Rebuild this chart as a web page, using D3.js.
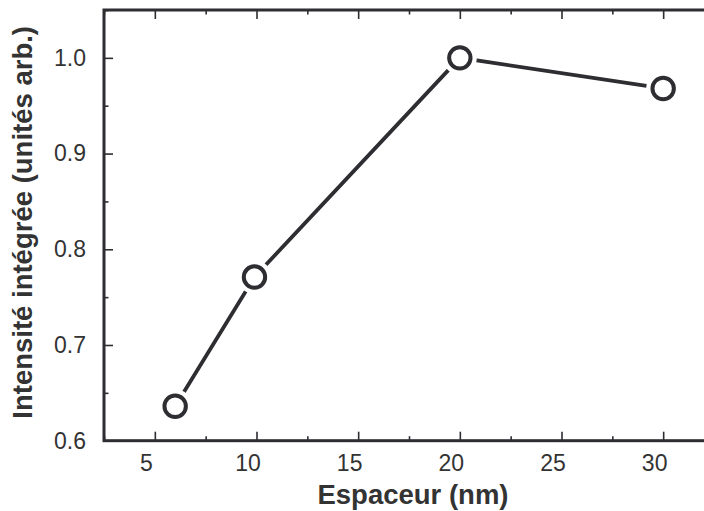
<!DOCTYPE html>
<html><head><meta charset="utf-8">
<script src="https://cdn.jsdelivr.net/npm/d3@7"></script>
<style>body{margin:0;background:#fff}svg{display:block}</style>
</head><body>
<script>
const spacer = [6.0, 9.9, 20, 30];
const intensity = [0.636, 0.771, 1.0, 0.968];
const xTicks = [5, 10, 15, 20, 25, 30];
const xMinor = [2.5, 7.5, 12.5, 17.5, 22.5, 27.5, 32.5];
const yTicks = [0.6, 0.7, 0.8, 0.9, 1.0];
const yMinor = [0.65, 0.75, 0.85, 0.95, 1.05];
const xTitle = "Espaceur (nm)";
const yTitle = "Intensité intégrée (unités arb.)";

const W = 704, H = 511;
const col = "#2d2d32";
const svg = d3.select("body").append("svg").attr("width", W).attr("height", H);
const x = d3.scaleLinear().domain([2.5, 32.5]).range([104, 714]);
const y = d3.scaleLinear().domain([0.6, 1.05]).range([440.7, 10]);
const font = "'Liberation Sans', Arial, sans-serif";

function styleAxis(g){
  g.select(".domain").remove();
  g.selectAll(".tick line").attr("stroke", col).attr("stroke-width", 1.6);
  g.selectAll("text").attr("font-family", font).attr("font-size", 23).attr("fill", "#333");
}
// bottom axis
const gb = svg.append("g").attr("transform", `translate(0,${y(0.6)})`)
  .call(d3.axisBottom(x).tickValues(xTicks).tickSize(-9).tickPadding(14).tickFormat(d3.format("d")));
styleAxis(gb);
gb.selectAll("text").attr("dx", -9);
svg.append("g").attr("transform", `translate(0,${y(0.6)})`)
  .call(d3.axisBottom(x).tickValues(xMinor).tickSize(-4.5).tickFormat("")).call(styleAxis);
// top axis
svg.append("g").attr("transform", `translate(0,${y(1.05)})`)
  .call(d3.axisTop(x).tickValues(xTicks).tickSize(-9).tickFormat("")).call(styleAxis);
svg.append("g").attr("transform", `translate(0,${y(1.05)})`)
  .call(d3.axisTop(x).tickValues(xMinor).tickSize(-4.5).tickFormat("")).call(styleAxis);
// left axis
const gl = svg.append("g").attr("transform", `translate(${x(2.5)},0)`)
  .call(d3.axisLeft(y).tickValues(yTicks).tickSize(-9).tickPadding(18).tickFormat(d3.format(".1f")));
styleAxis(gl);
svg.append("g").attr("transform", `translate(${x(2.5)},0)`)
  .call(d3.axisLeft(y).tickValues(yMinor).tickSize(-4.5).tickFormat("")).call(styleAxis);

// frame
svg.append("rect").attr("x", x(2.5)).attr("y", y(1.05))
  .attr("width", x(32.5) - x(2.5)).attr("height", y(0.6) - y(1.05))
  .attr("fill", "none").attr("stroke", col).attr("stroke-width", 3);

const pts = spacer.map((d, i) => [d, intensity[i]]);
svg.append("path").datum(pts)
  .attr("d", d3.line().x(d => x(d[0])).y(d => y(d[1])))
  .attr("fill", "none").attr("stroke", col).attr("stroke-width", 3.8);
svg.selectAll("circle.halo").data(pts).join("circle").attr("class", "halo")
  .attr("cx", d => x(d[0])).attr("cy", d => y(d[1])).attr("r", 17).attr("fill", "#fff");
svg.selectAll("circle.pt").data(pts).join("circle").attr("class", "pt")
  .attr("cx", d => x(d[0])).attr("cy", d => y(d[1])).attr("r", 10.7)
  .attr("fill", "#fff").attr("stroke", col).attr("stroke-width", 4);

svg.append("text").attr("x", (x(5) + x(30)) / 2 + 4).attr("y", 504)
  .attr("text-anchor", "middle").attr("font-family", font).attr("font-weight", "bold")
  .attr("font-size", 27.5).attr("fill", "#333").text(xTitle);
svg.append("text").attr("transform", `translate(32,${(y(0.6) + y(1.05)) / 2 - 3}) rotate(-90)`)
  .attr("text-anchor", "middle").attr("font-family", font).attr("font-weight", "bold")
  .attr("font-size", 27.5).attr("fill", "#333").text(yTitle);
</script>
</body></html>
